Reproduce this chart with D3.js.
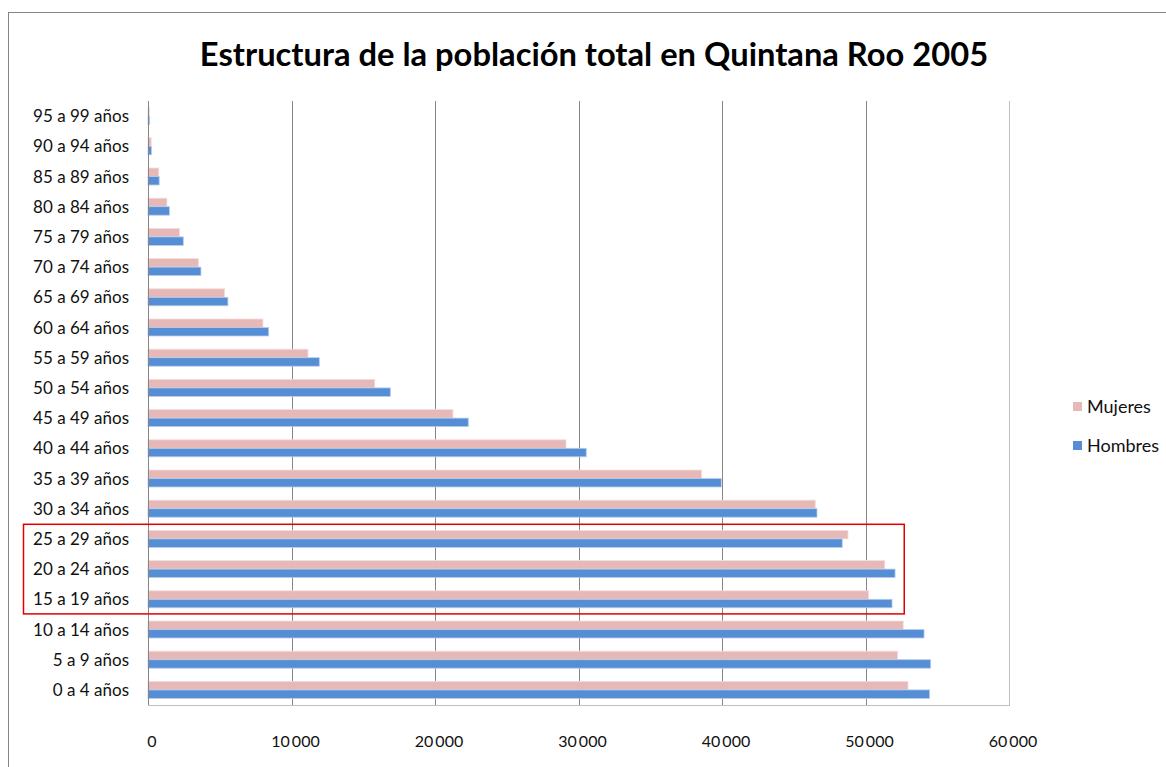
<!DOCTYPE html>
<html>
<head>
<meta charset="utf-8">
<script src="https://cdn.jsdelivr.net/npm/d3@7"></script>
<style>
  body { margin: 0; background: #fff; }
  svg { display: block; font-family: Lato, "Open Sans", sans-serif; }
</style>
</head>
<body>
<div id="chart"></div>
<script>
// grupos de edad (de abajo hacia arriba, como en la tabla original)
var grupos = ["0 a 4 años", "5 a 9 años", "10 a 14 años", "15 a 19 años", "20 a 24 años",
  "25 a 29 años", "30 a 34 años", "35 a 39 años", "40 a 44 años", "45 a 49 años",
  "50 a 54 años", "55 a 59 años", "60 a 64 años", "65 a 69 años", "70 a 74 años",
  "75 a 79 años", "80 a 84 años", "85 a 89 años", "90 a 94 años", "95 a 99 años"];
var mujeres = [52960, 52240, 52630, 50220, 51340, 48780, 46500, 38580, 29130, 21250,
  15800, 11150, 8010, 5340, 3510, 2200, 1320, 750, 220, 90];
var hombres = [54470, 54540, 54080, 51850, 52060, 48380, 46620, 39950, 30540, 22320,
  16890, 11940, 8410, 5570, 3690, 2460, 1490, 780, 240, 120];
var series = ["Mujeres", "Hombres"];
var colores = ["#e6b9b8", "#558ed5"];
var bordes = ["#f2dcdb", "#b9cde9"];
var ticksX = [0, 10000, 20000, 30000, 40000, 50000, 60000];
var titulo = "Estructura de la población total en Quintana Roo 2005";
// grupos marcados con el recuadro rojo
var marcados = ["15 a 19 años", "25 a 29 años"];

var width = 1166, height = 767;
var mLeft = 148, mRight = 1009, mTop = 101, mBottom = 705;

var svg = d3.select("#chart").append("svg")
    .attr("width", width)
    .attr("height", height);

// marco exterior del gráfico
svg.append("rect")
    .attr("x", 8.5).attr("y", 12.5)
    .attr("width", 1300).attr("height", 900)
    .attr("fill", "none")
    .attr("stroke", "#868686");

svg.append("text")
    .attr("x", 594).attr("y", 66)
    .attr("text-anchor", "middle")
    .style("font-size", "32.7px")
    .style("font-weight", "bold")
    .text(titulo);

var x = d3.scaleLinear().domain([0, 60000]).range([mLeft, mRight]);
var y = d3.scaleBand().domain(grupos.slice().reverse()).range([mTop, mBottom]);
var ySerie = d3.scaleBand().domain(series).range([0, 17]);
var off = (y.bandwidth() - 17) / 2;

// líneas de división
svg.append("g").selectAll("line")
    .data(ticksX.slice(1, -1))
    .enter()
    .append("line")
    .attr("x1", function(d) {return Math.round(x(d)) + 0.5})
    .attr("x2", function(d) {return Math.round(x(d)) + 0.5})
    .attr("y1", mTop)
    .attr("y2", mBottom)
    .attr("stroke", "#868686");

// borde derecho del área de trazado
svg.append("line")
    .attr("x1", mRight + 0.5).attr("x2", mRight + 0.5)
    .attr("y1", mTop).attr("y2", mBottom)
    .attr("stroke", "#bfbfbf");

var datos = [];
grupos.forEach(function(g, i) {
  datos.push({grupo: g, serie: "Mujeres", valor: mujeres[i]});
  datos.push({grupo: g, serie: "Hombres", valor: hombres[i]});
});

svg.append("g").selectAll("rect")
    .data(datos)
    .enter()
    .append("rect")
    .attr("x", x(0))
    .attr("y", function(d) {return y(d.grupo) + off + ySerie(d.serie)})
    .attr("width", function(d) {return x(d.valor) - x(0)})
    .attr("height", ySerie.bandwidth())
    .attr("fill", function(d) {return colores[series.indexOf(d.serie)]})
    .attr("stroke", function(d) {return bordes[series.indexOf(d.serie)]})
    .attr("stroke-width", 0.8);

// eje vertical y eje horizontal
svg.append("line")
    .attr("x1", mLeft + 0.5).attr("x2", mLeft + 0.5)
    .attr("y1", mTop).attr("y2", mBottom)
    .attr("stroke", "#868686");
svg.append("line")
    .attr("x1", mLeft).attr("x2", mRight + 1)
    .attr("y1", mBottom + 0.5).attr("y2", mBottom + 0.5)
    .attr("stroke", "#bfbfbf");

// etiquetas de categorías
svg.append("g").selectAll("text")
    .data(grupos)
    .enter()
    .append("text")
    .attr("x", 129)
    .attr("y", function(d) {return y(d) + y.bandwidth() / 2 + 6})
    .attr("text-anchor", "end")
    .style("font-size", "17px")
    .style("fill", "#111")
    .text(function(d) {return d});

// etiquetas del eje x
var fmt = function(v) {return v === 0 ? "0" : d3.format(",")(v).replace(",", "\u2009")};
svg.append("g").selectAll("text")
    .data(ticksX)
    .enter()
    .append("text")
    .attr("x", function(d) {return x(d) + 4})
    .attr("y", 747)
    .attr("text-anchor", "middle")
    .style("font-size", "16px")
    .style("fill", "#111")
    .text(fmt);

// leyenda
var leyenda = svg.append("g");
series.forEach(function(s, i) {
  leyenda.append("rect")
      .attr("x", 1073).attr("y", 402 + i * 39)
      .attr("width", 9).attr("height", 9)
      .attr("fill", colores[i]);
  leyenda.append("text")
      .attr("x", 1087).attr("y", 413 + i * 39)
      .style("font-size", "18px")
      .style("fill", "#111")
      .text(s);
});

// recuadro rojo de resaltado
svg.append("rect")
    .attr("x", 23.5)
    .attr("y", y(marcados[1]) + 0.5)
    .attr("width", x(52700) - 23.5)
    .attr("height", y(marcados[0]) + y.bandwidth() - y(marcados[1]) - 1)
    .attr("fill", "none")
    .attr("stroke", "#e00000")
    .attr("stroke-width", 1.5);
</script>
</body>
</html>
